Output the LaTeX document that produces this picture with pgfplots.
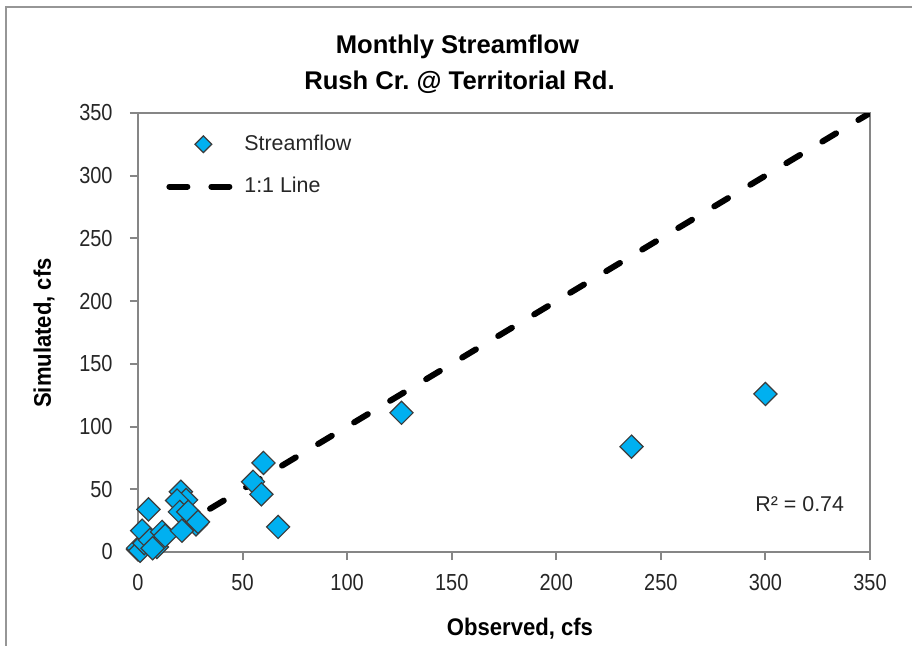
\documentclass[border=0pt]{standalone}
\usepackage{fontspec}
\setmainfont{Liberation Sans}
\newfontfamily\narrowfont{Liberation Sans}[FakeStretch=0.86]
\usepackage{pgfplots}
\pgfplotsset{compat=1.18}
\definecolor{axisgray}{RGB}{134,134,134}
\definecolor{borderg}{RGB}{150,150,150}
\definecolor{mblue}{RGB}{0,176,240}
\definecolor{medge}{RGB}{60,60,60}
\pgfplotsset{
  scatterleg/.style={legend image code/.code={\draw[##1, mark size=2.95pt] plot coordinates {(18.5pt,0pt)};}},
  lineleg/.style={legend image code/.code={\draw[##1, dash pattern=on 9pt off 12pt] (1.5pt,0pt) -- (31.5pt,0pt);}},
}
\frenchspacing
\begin{document}
\begin{tikzpicture}
\begin{axis}[
  at={(0pt,0pt)}, anchor=south west,
  scale only axis, width=366pt, height=219.5pt,
  xmin=0, xmax=350, ymin=0, ymax=350,
  xtick={0,50,...,350}, ytick={0,50,...,350},
  tick pos=left, tick align=outside, major tick length=4pt,
  axis line style={axisgray, line width=1pt},
  tick style={axisgray, line width=1pt},
  tick label style={font=\narrowfont\fontsize{11.6}{12}\selectfont, text=black!85, inner sep=0pt},
  xticklabel style={anchor=north, yshift=-7pt},
  yticklabel style={anchor=east, xshift=-8.5pt},
  /pgf/number format/assume math mode=true,
  legend style={draw=none, fill=none, at={(0.03825,0.9508)}, anchor=north west,
    inner sep=0pt, row sep=11.9pt, column sep=6pt,
    font=\fontsize{10.7}{12}\selectfont, text=black!85, nodes={inner sep=0pt}},
  legend cell align=left,
]
\addplot[black, line width=3pt, dash pattern=on 8pt off 13pt, line cap=round, forget plot]
  coordinates {(0,0) (350,350)};
\addplot[only marks, mark=square*, mark size=4.1pt,
  mark options={rotate=45, fill=mblue, draw=medge, line width=0.6pt}, scatterleg]
  coordinates {
  (0,2) (0,3) (1,1) (3,7) (2,17) (5.7,9.6) (9,4) (7,3) (11.5,16) (13,13)
  (5,34) (20.5,48) (23,41.5) (18.7,41) (20,32) (24,32) (27.7,22) (28.7,24) (21,17)
  (55,56) (60,71) (59,46) (67,20) (126,111) (236,84) (300,126)
  };
\addlegendentry{Streamflow}
\addlegendimage{black, line width=3pt, line cap=round, lineleg}
\addlegendentry{1:1 Line}
\end{axis}
\node[font=\bfseries\fontsize{12.8}{15}\selectfont, anchor=base] at (159.75pt,249.5pt) {Monthly Streamflow};
\node[font=\bfseries\fontsize{12.8}{15}\selectfont, anchor=base] at (160.75pt,231.5pt) {Rush Cr. @ Territorial Rd.};
\node[font=\bfseries\fontsize{12}{14}\selectfont\addfontfeature{FakeStretch=0.92}, anchor=base] at (191pt,-41.5pt) {Observed, cfs};
\node[font=\bfseries\fontsize{12}{14}\selectfont\addfontfeature{FakeStretch=0.92}, anchor=base, rotate=90] at (-43.5pt,109.5pt) {Simulated, cfs};
\node[font=\fontsize{10.7}{12}\selectfont, anchor=base west, inner sep=0pt, text=black!85] at (308.5pt,20.5pt) {R² = 0.74};
\draw[borderg, line width=1pt] (-66pt,-50pt) -- (-66pt,272.5pt) -- (390pt,272.5pt);
\pgfresetboundingbox
\useasboundingbox (-69pt,-46.5pt) rectangle (387pt,276pt);
\end{tikzpicture}
\end{document}
